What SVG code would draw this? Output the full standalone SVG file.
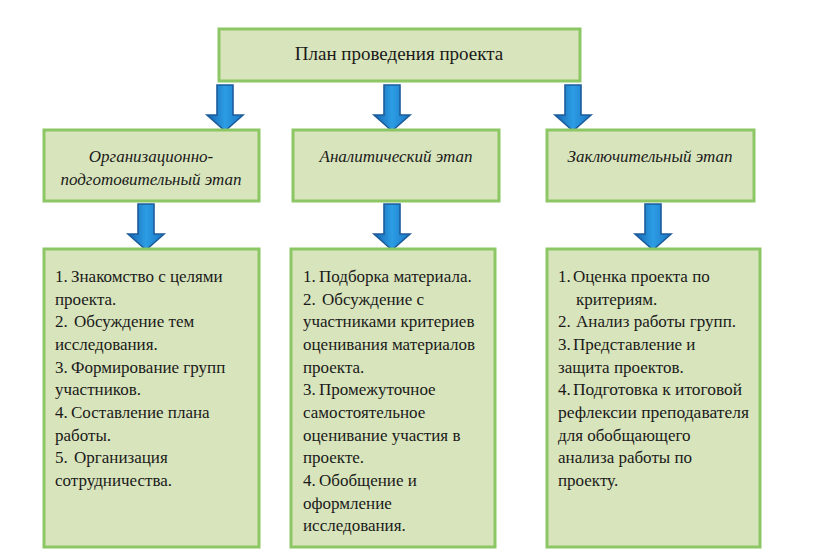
<svg xmlns="http://www.w3.org/2000/svg" width="832" height="559" viewBox="0 0 832 559">
<defs>
<style>
.box{fill:#d8e4bc;stroke:#8cc665;stroke-width:3}
.t{font-family:'Liberation Serif','Times New Roman','DejaVu Serif',serif;font-size:17px;fill:#1a1a1a}
.ti{font-family:'Liberation Serif','Times New Roman','DejaVu Serif',serif;font-size:17px;font-style:italic;fill:#1a1a1a}
.arr{fill:url(#bg);stroke:#1d5c9c;stroke-width:1.6;stroke-linejoin:miter}
</style>
<linearGradient id="bg" x1="0" y1="0" x2="1" y2="0">
<stop offset="0" stop-color="#1565b0"/>
<stop offset="0.5" stop-color="#2c9de4"/>
<stop offset="1" stop-color="#1a76c6"/>
</linearGradient>
<path id="arrow" d="M-8,0 H8 V30 H18 L0,46 L-18,30 H-8 Z"/>
</defs>
<rect width="832" height="559" fill="#ffffff"/>
<g id="connectors">
<use href="#arrow" class="arr" x="225" y="85"/>
<use href="#arrow" class="arr" x="392" y="85"/>
<use href="#arrow" class="arr" x="573" y="85"/>
<use href="#arrow" class="arr" x="146" y="204"/>
<use href="#arrow" class="arr" x="392" y="204"/>
<use href="#arrow" class="arr" x="653" y="204"/>
</g>
<g id="title">
<rect class="box" x="219" y="29" width="361" height="52"/>
<text class="t" x="399" y="60" text-anchor="middle" style="font-size:19px">План проведения проекта</text>
</g>
<g id="stage1">
<rect class="box" x="44" y="130" width="215" height="71"/>
<text class="ti" x="151" y="162" text-anchor="middle">Организационно-</text>
<text class="ti" x="151" y="185" text-anchor="middle">подготовительный этап</text>
</g>
<g id="stage2">
<rect class="box" x="293" y="130" width="206" height="71"/>
<text class="ti" x="396" y="162" text-anchor="middle">Аналитический этап</text>
</g>
<g id="stage3">
<rect class="box" x="547" y="130" width="207" height="71"/>
<text class="ti" x="650" y="162" text-anchor="middle">Заключительный этап</text>
</g>
<g id="list1">
<rect class="box" x="44" y="249" width="215" height="298"/>
<text class="t" x="55" y="282">1.<tspan x="71">Знакомство с целями</tspan></text>
<text class="t" x="55" y="305">проекта.</text>
<text class="t" x="55" y="327">2.<tspan x="74">Обсуждение тем</tspan></text>
<text class="t" x="55" y="350">исследования.</text>
<text class="t" x="55" y="373">3.<tspan x="71">Формирование групп</tspan></text>
<text class="t" x="55" y="395">участников.</text>
<text class="t" x="55" y="418">4.<tspan x="71">Составление плана</tspan></text>
<text class="t" x="55" y="441">работы.</text>
<text class="t" x="55" y="463">5.<tspan x="74">Организация</tspan></text>
<text class="t" x="55" y="486">сотрудничества.</text>
</g>
<g id="list2">
<rect class="box" x="291" y="249" width="204" height="298"/>
<text class="t" x="303" y="282">1.<tspan x="319">Подборка материала.</tspan></text>
<text class="t" x="303" y="305">2.<tspan x="322">Обсуждение с</tspan></text>
<text class="t" x="303" y="327">участниками критериев</text>
<text class="t" x="303" y="350">оценивания материалов</text>
<text class="t" x="303" y="373">проекта.</text>
<text class="t" x="303" y="395">3.<tspan x="319">Промежуточное</tspan></text>
<text class="t" x="303" y="418">самостоятельное</text>
<text class="t" x="303" y="441">оценивание участия в</text>
<text class="t" x="303" y="463">проекте.</text>
<text class="t" x="303" y="486">4.<tspan x="319">Обобщение и</tspan></text>
<text class="t" x="303" y="509">оформление</text>
<text class="t" x="303" y="531">исследования.</text>
</g>
<g id="list3">
<rect class="box" x="547" y="249" width="213" height="298"/>
<text class="t" x="558" y="282">1.<tspan x="573">Оценка проекта по</tspan></text>
<text class="t" x="576" y="305">критериям.</text>
<text class="t" x="558" y="327">2.<tspan x="576" textLength="160" lengthAdjust="spacing">Анализ работы групп.</tspan></text>
<text class="t" x="558" y="350">3.<tspan x="573">Представление и</tspan></text>
<text class="t" x="558" y="373">защита проектов.</text>
<text class="t" x="558" y="395">4.<tspan x="573" textLength="169" lengthAdjust="spacingAndGlyphs">Подготовка к итоговой</tspan></text>
<text class="t" x="558" y="418" textLength="191" lengthAdjust="spacingAndGlyphs">рефлексии преподавателя</text>
<text class="t" x="558" y="441">для обобщающего</text>
<text class="t" x="558" y="463">анализа работы по</text>
<text class="t" x="558" y="486">проекту.</text>
</g>
</svg>
